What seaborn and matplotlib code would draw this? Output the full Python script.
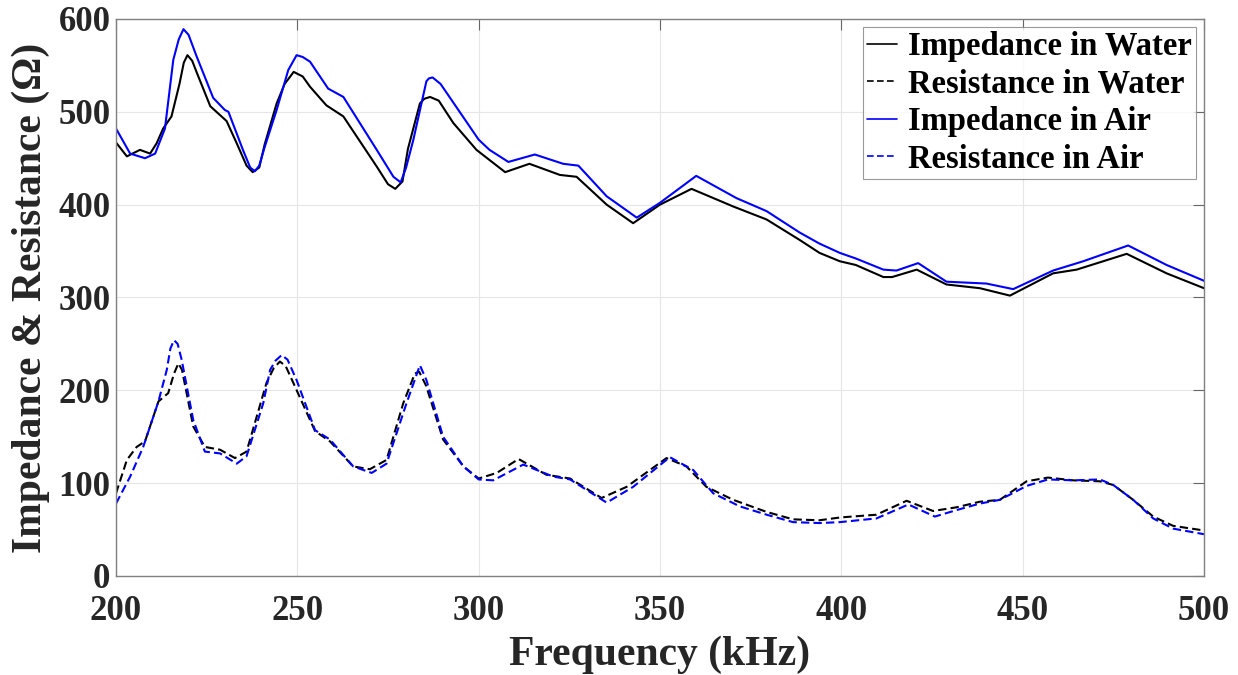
import matplotlib
matplotlib.use("Agg")
import matplotlib.pyplot as plt
import pandas as pd
import seaborn as sns

# Impedance in water (solid black)
f_imp_water = [200, 203, 206.6, 209.4, 211.2, 213, 215.3, 217.5, 218.7, 219.7, 221,
               222.5, 226, 230.5, 233.3, 236, 237.7, 239.5, 241, 244.3, 246.5,
               249, 251.5, 253.5, 258, 262.7, 271.9, 275, 277, 279, 280.5,
               283.8, 285, 286.6, 289, 293, 299.4, 307.3, 314, 322.4, 327,
               335.3, 342.6, 350, 358.7, 370.2, 379.4, 388.5, 394, 399.6, 404,
               411.6, 414, 420.8, 429, 438.2, 446.5, 458.4, 464.9, 478.7, 489.7,
               500]
imp_water = [467, 452, 459, 455, 466, 482, 495, 530, 553, 561, 555,
             540, 506, 490, 466, 442, 435, 440, 465, 509, 530,
             543, 538, 527, 507, 495, 441, 422, 417, 425, 460,
             509, 514, 516, 512, 488, 459, 435, 444, 432, 430,
             400, 380, 400, 417, 398, 384, 362, 348, 339, 335,
             322, 322, 330, 314, 310, 302, 326, 330, 347, 326,
             310]

# Impedance in air (solid blue)
f_imp_air = [200, 203.9, 208, 210.8, 213.5, 215.8, 217.3, 218.6, 220, 222.2, 226.8,
             230, 231, 235, 237, 238.3, 239.5, 241, 244.3, 247.5, 249.8,
             251.5, 253.5, 258.5, 262.7, 271.9, 276.5, 278.5, 280, 282, 285.6,
             286.3, 287.3, 289.5, 293, 300, 303, 308.2, 315.5, 323.3, 327.5,
             335.3, 343.6, 350, 360, 371.1, 379.4, 388.5, 394, 399.6, 404,
             411.6, 415.2, 421.2, 429, 440, 447.4, 458.4, 466.7, 479.1, 489.7,
             500]
imp_air = [482, 455, 450, 455, 482, 556, 578, 589, 583, 560, 515,
           502, 500, 459, 440, 436, 442, 462, 502, 545, 561,
           559, 554, 525, 516, 459, 430, 424, 440, 470, 533,
           536, 537, 530, 510, 470, 459, 446, 454, 444, 442,
           409, 386, 402, 431, 407, 393, 370, 358, 348, 342,
           330, 329, 337, 317, 315, 309, 329, 339, 356, 335,
           318]

# Resistance in water (dashed black)
f_res_water = [200, 203, 205.7, 208, 211.7, 214.4, 216, 217.2, 218.2, 221.3, 224.5,
               228.7, 232.8, 236, 241.5, 243.5, 245.2, 246.8, 248.9, 254.9, 259,
               265.4, 270, 274.6, 279.2, 282.4, 283.6, 285.5, 290.2, 295.8, 300,
               305, 311, 318.7, 325.2, 333.9, 340.8, 351.8, 357.3, 362.8, 370.2,
               379.4, 386.7, 394, 399.6, 409.7, 418, 425.3, 431.8, 438.2, 443.7,
               451.1, 457, 464, 471.3, 475, 480.5, 486, 491.5, 500]
res_water = [89, 125, 139, 145, 188, 197, 218, 229, 222, 161, 139,
             136, 127, 134, 208, 224, 231, 226, 208, 156, 145,
             118, 115, 125, 186, 218, 220, 205, 147, 118, 105,
             111, 126, 109, 105, 84, 96, 127, 118, 96, 82,
             69, 61, 60, 63, 66, 81, 70, 74, 80, 82,
             102, 106, 103, 102, 98, 82, 64, 54, 49]

# Resistance in air (dashed blue)
f_res_air = [200, 203.9, 207.5, 211.7, 214, 215, 216, 217, 218.1, 221.3, 224.5,
             228.7, 233.3, 236, 240.6, 242.5, 244, 245.7, 247.3, 249.8, 254.9,
             259, 265.4, 270.5, 274.6, 280.1, 283.8, 285.6, 290.2, 295.8, 300,
             304, 312.3, 320.6, 325.2, 335.3, 342.6, 352.7, 359.2, 364.7, 372,
             379.4, 386.7, 394, 399.6, 409.7, 418.5, 425.8, 431.8, 438.2, 443.7,
             451.1, 457, 464, 471.3, 475, 480.5, 486, 491.5, 500]
res_air = [78, 107, 139, 188, 222, 245, 254, 250, 233, 168, 134,
           132, 121, 129, 186, 222, 232, 238, 233, 211, 157,
           147, 118, 111, 121, 186, 227, 211, 150, 118, 104,
           103, 120, 107, 104, 79, 96, 128, 114, 89, 75,
           66, 58, 57, 58, 62, 77, 64, 71, 78, 82,
           97, 104, 103, 104, 98, 82, 62, 51, 45]

x_ticks = [200, 250, 300, 350, 400, 450, 500]
y_ticks = [0, 100, 200, 300, 400, 500, 600]

sns.set_style("whitegrid")
plt.rcParams["font.family"] = ["Liberation Serif", "DejaVu Serif"]
plt.rcParams["font.weight"] = "bold"

fig = plt.figure(figsize=(12.38, 6.75), dpi=100)
ax = fig.add_axes([0.0937, 0.1467, 0.8788, 0.8252])

series = [
    (f_imp_water, imp_water, "Impedance in Water", "black", "-"),
    (f_res_water, res_water, "Resistance in Water", "black", "--"),
    (f_imp_air, imp_air, "Impedance in Air", "blue", "-"),
    (f_res_air, res_air, "Resistance in Air", "blue", "--"),
]
for fx, vals, name, col, ls in series:
    df = pd.DataFrame({"freq": fx, "val": vals})
    sns.lineplot(data=df, x="freq", y="val", ax=ax, color=col,
                 label=name, linewidth=1.5, estimator=None, sort=False)
    if ls == "--":
        ax.lines[-1].set_linestyle((0, (4, 2)))

ax.set_xlim(200, 500)
ax.set_ylim(0, 600)
ax.set_xticks(x_ticks)
ax.set_yticks(y_ticks)
ax.tick_params(direction="in", length=8, width=0.8, color="#666666",
               labelsize=25, labelcolor="#262626", top=True, right=True,
               labeltop=False, labelright=False)
ax.tick_params(axis="x", pad=14)
ax.tick_params(axis="y", pad=4)
for lab in ax.get_xticklabels() + ax.get_yticklabels():
    lab.set_fontweight("bold")
ax.grid(True, color="#e6e6e6", linewidth=0.8)
for sp in ax.spines.values():
    sp.set_color("#808080")
    sp.set_linewidth(1.0)

ax.set_xlabel("Frequency (kHz)", fontsize=30, fontweight="bold",
              color="#262626", labelpad=5)
ax.set_ylabel("Impedance & Resistance (Ω)", fontsize=30, fontweight="bold",
              color="#262626", labelpad=6)

leg = ax.legend(loc="upper right", fontsize=23.5, frameon=True, fancybox=False,
                handlelength=0.9, handletextpad=0.35, borderpad=0.12,
                labelspacing=0.2, borderaxespad=0.25)
leg.get_frame().set_edgecolor("#808080")
leg.get_frame().set_linewidth(0.8)
for t in leg.get_texts():
    t.set_fontweight("bold")
    t.set_color("black")
for h in leg.get_lines():
    h.set_linewidth(1.2)

fig.savefig("out.png", dpi=100)
